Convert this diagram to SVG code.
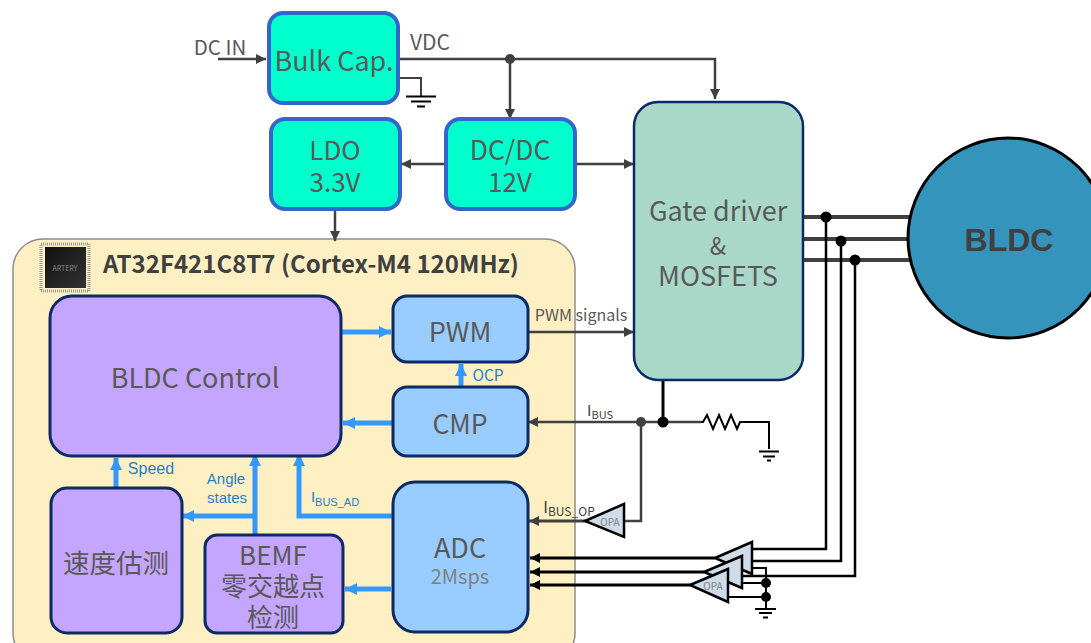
<svg xmlns="http://www.w3.org/2000/svg" width="1091" height="643" viewBox="0 0 1091 643">
<defs>
<style>
text{font-family:"Noto Sans CJK SC","Noto Sans",sans-serif;fill:#595959;text-anchor:middle}
.green{fill:#00FFCC;stroke:#3366CC;stroke-width:4}
.purple{fill:#C4A6FF;stroke:#0D2A66;stroke-width:3}
.blue{fill:#99CCFF;stroke:#0D2A66;stroke-width:3}
.gr{fill:none;stroke:#404040;stroke-width:2}
.bk{fill:none;stroke:#000;stroke-width:2.500}
.bk2{fill:none;stroke:#000;stroke-width:2}
.wire{fill:none;stroke:#404040;stroke-width:2.500}
.bl{fill:none;stroke:#3399FF;stroke-width:5}
.opa{fill:#CFDCE8;stroke:#000;stroke-width:2.500}
.lbl{font-family:"Liberation Sans",Arial,sans-serif;fill:#1F7FCC;font-size:16px}
.b20{font-size:27px}
</style>
<marker id="ag" markerUnits="userSpaceOnUse" markerWidth="12" markerHeight="12" refX="10" refY="5" orient="auto"><path d="M0 0L10 5L0 10Z" fill="#404040"/></marker>
<marker id="ak" markerUnits="userSpaceOnUse" markerWidth="12" markerHeight="12" refX="10" refY="5" orient="auto"><path d="M0 0L10 5L0 10Z" fill="#000"/></marker>
<marker id="ab" markerUnits="userSpaceOnUse" markerWidth="14" markerHeight="14" refX="12" refY="6" orient="auto"><path d="M0 0L12 6L0 12Z" fill="#3399FF"/></marker>
<linearGradient id="chip" x1="0" y1="0" x2="1" y2="1"><stop offset="0" stop-color="#111"/><stop offset="1" stop-color="#333"/></linearGradient>
</defs>

<g id="mcu"><rect x="13" y="239" width="562" height="424" rx="30" fill="#FEF0C3" stroke="#8C8C8C" stroke-width="1.500"/>
<text x="311" y="273" style="font-size:24px;font-weight:700;fill:#404040">AT32F421C8T7 (Cortex-M4 120MHz)</text></g>
<g id="chip-icon"><rect x="41" y="244" width="48" height="47" fill="none" stroke="#999" stroke-width="3" stroke-dasharray="1 1"/><rect x="45" y="247" width="41" height="41" fill="url(#chip)"/><text x="65" y="271" style="font-size:7px;fill:#888">ARTERY</text></g>

<g id="connectors">
<path class="wire" d="M218 59H266" marker-end="url(#ag)"/>
<path class="wire" d="M398 59H715V99" marker-end="url(#ag)"/>
<path class="wire" d="M510 59V119" marker-end="url(#ag)"/>
<path class="wire" d="M445 164H401" marker-end="url(#ag)"/>
<path class="wire" d="M575 164H634" marker-end="url(#ag)"/>
<path class="wire" d="M335 209V241" marker-end="url(#ag)"/>
<path class="gr" d="M398 78H421V97"/>
<path class="bk2" d="M406 96.500H436M411 101.500H431M417 106.500H425"/>
<path class="wire" d="M528 332H634" marker-end="url(#ag)"/>
<path class="wire" d="M701 422H528" marker-end="url(#ag)"/>
<path class="bk" d="M663 380V422" style="stroke-width:3"/>
<path class="wire" d="M641 422V521H622"/>
<path class="wire" d="M586 521H529" marker-end="url(#ag)" style="stroke-width:3"/>
<path class="bk2" d="M701 422H703L707 415L713 429L719 415L725 429L731 415L737 429L740 422H769V449"/>
<path class="bk2" d="M759 451.500H779M763 456.500H775M767 460.500H771"/>
<path class="wire" d="M803 217H910M803 239H908M803 260H910" style="stroke-width:4"/>
<path class="bk" d="M826 217V549H752M841 241V561H740M855 260V576H740"/>
<path class="bl" d="M341 332H391" marker-end="url(#ab)"/>
<path class="bl" d="M461 387V364" marker-end="url(#ab)"/>
<path class="bl" d="M393 423H343" marker-end="url(#ab)"/>
<path class="bl" d="M116 488V458" marker-end="url(#ab)"/>
<path class="bl" d="M255 535V454" marker-end="url(#ab)"/>
<path class="bl" d="M255 516H182" marker-end="url(#ab)"/>
<path class="bl" d="M393 516H299V454" marker-end="url(#ab)"/>
<path class="bl" d="M391 589H345" marker-end="url(#ab)"/>
<path class="bk2" d="M715 558H530" marker-end="url(#ak)" style="stroke-width:3"/>
<path class="bk2" d="M704 572H530" marker-end="url(#ak)" style="stroke-width:3"/>
<path class="bk2" d="M690 585H530" marker-end="url(#ak)" style="stroke-width:3"/>
<path class="bk2" d="M752 568H766V608M742 583H766M728 597H766"/>
<path class="bk2" d="M755 609H776M759 613H772M763 617.500H768"/>
<g fill="#000"><circle cx="663" cy="422" r="5.500"/><circle cx="826" cy="217" r="5.500"/><circle cx="841" cy="241" r="5.500"/><circle cx="855" cy="260" r="5.500"/><circle cx="766" cy="583" r="5"/><circle cx="766" cy="597" r="5"/></g>
<g fill="#404040"><circle cx="510" cy="59" r="5"/><circle cx="641" cy="422" r="5"/></g>
</g>

<g id="bulk"><rect class="green" x="269" y="13" width="129" height="90" rx="14"/><text x="334" y="71" class="b20">Bulk Cap.</text></g>
<g id="ldo"><rect class="green" x="271" y="119" width="129" height="90" rx="14"/><text x="335" y="160" style="font-size:26px">LDO</text><text x="335" y="192" style="font-size:26px">3.3V</text></g>
<g id="dcdc"><rect class="green" x="446" y="119" width="129" height="90" rx="14"/><text x="510" y="160" style="font-size:26.500px">DC/DC</text><text x="510" y="192" style="font-size:26px">12V</text></g>
<g id="gate"><rect x="634" y="102" width="169" height="278" rx="24" fill="#A9D8C8" stroke="#0D2A66" stroke-width="2.500"/><text x="718" y="221" class="b20">Gate driver</text><text x="718" y="255" style="font-size:24px">&amp;</text><text x="718" y="286" class="b20">MOSFETS</text></g>
<g id="motor"><circle cx="1008" cy="238" r="100" fill="#3594BC" stroke="#000" stroke-width="3"/><text x="1009" y="251" style="font-family:'Liberation Sans',Arial,sans-serif;font-size:32px;font-weight:700;fill:#404040">BLDC</text></g>
<g id="control"><rect class="purple" x="50" y="296" width="291" height="160" rx="22"/><text x="195" y="388" class="b20">BLDC Control</text></g>
<g id="pwm"><rect class="blue" x="393" y="296" width="135" height="66" rx="14"/><text x="460" y="342" class="b20">PWM</text></g>
<g id="cmp"><rect class="blue" x="393" y="387" width="135" height="69" rx="14"/><text x="460" y="434" style="font-size:26.500px">CMP</text></g>
<g id="adc"><rect class="blue" x="393" y="482" width="135" height="150" rx="22"/><text x="460" y="558" class="b20">ADC</text><text x="460" y="584" style="font-size:20px;fill:#7F7F7F">2Msps</text></g>
<g id="speed"><rect class="purple" x="51" y="488" width="131" height="145" rx="16"/><text x="116" y="573" style="font-size:26.500px">速度估测</text></g>
<g id="bemf"><rect class="purple" x="205" y="535" width="138" height="98" rx="12"/><text x="273" y="565" style="font-size:26px">BEMF</text><text x="273" y="596" style="font-size:26px">零交越点</text><text x="273" y="627" style="font-size:26px">检测</text></g>

<g id="amp-bus"><path class="opa" d="M585 521L624 504V537Z"/><text x="610" y="526" style="font-size:10px;fill:#7F7F7F">OPA</text></g>
<g id="amp-a"><path class="opa" d="M715 558L752 542V574Z"/></g>
<g id="amp-b"><path class="opa" d="M704 572L742 556V588Z"/></g>
<g id="amp-c"><path class="opa" d="M690 585L728 569V602Z"/><text x="713" y="590" style="font-size:10px;fill:#7F7F7F">OPA</text></g>

<g id="labels">
<text x="220" y="55" style="font-size:20.500px">DC IN</text>
<text x="430" y="50" style="font-size:21px">VDC</text>
<text x="581" y="321" style="font-size:16px">PWM signals</text>
<text x="488" y="381" style="font-size:15.500px;fill:#1F7FCC">OCP</text>
<text x="600" y="416" style="font-size:15px;fill:#404040">I<tspan dy="3" font-size="11">BUS</tspan></text>
<text x="569" y="513" style="font-size:16px;fill:#404040">I<tspan dy="3" font-size="12">BUS_OP</tspan></text>
<text x="151" y="474" class="lbl">Speed</text>
<text x="226" y="484" class="lbl" style="font-size:15px">Angle</text>
<text x="227" y="503" class="lbl" style="font-size:15px">states</text>
<text x="335" y="502" class="lbl" style="font-size:15px">I<tspan dy="4" font-size="11">BUS_AD</tspan></text>
</g>
</svg>
